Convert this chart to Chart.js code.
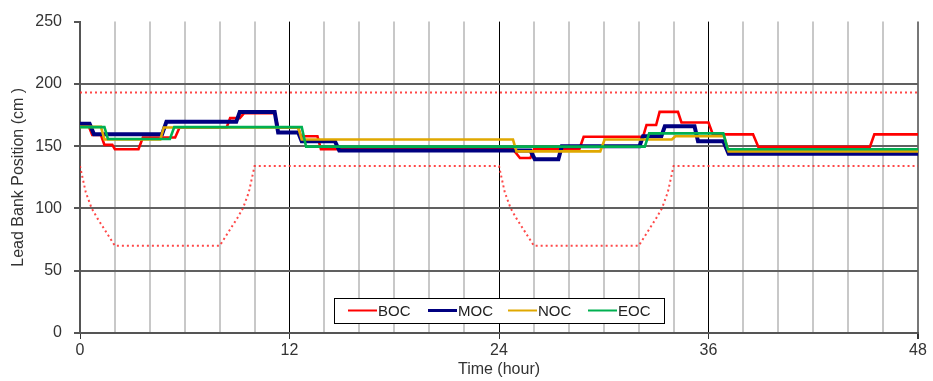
<!DOCTYPE html>
<html>
<head>
<meta charset="utf-8">
<script src="https://cdn.jsdelivr.net/npm/chart.js@4/dist/chart.umd.min.js"></script>
<style>
  html, body { margin: 0; padding: 0; background: #fff; }
  #wrap { width: 933px; height: 381px; }
</style>
</head>
<body>
<div id="wrap"><canvas id="myChart" width="933" height="381"></canvas></div>
<script>
var seriesNames = ['BOC', 'MOC', 'NOC', 'EOC'];
var seriesColors = ['#ff0000', '#000080', '#e0a800', '#00b050'];

// step curves (hour, cm)
var bocHours  = [0, 0.5, 0.7, 1.2, 1.4, 1.85, 2.0, 3.35, 3.6, 5.45, 5.7, 8.4, 8.6, 9.15, 9.4, 11.15, 11.35, 12.5, 12.65, 13.6, 13.8, 24.8, 25.2, 25.8, 26.0, 28.6, 28.85, 32.25, 32.45, 33.0, 33.2, 34.25, 34.45, 36.0, 36.25, 38.55, 38.85, 45.25, 45.5, 48];
var bocValues = [166, 166, 159, 159, 151, 151, 147.5, 147.5, 157, 157, 165, 165, 172.5, 172.5, 176.5, 176.5, 165, 165, 158, 158, 147.5, 147.5, 140.5, 140.5, 147.5, 147.5, 157.5, 157.5, 167, 167, 177.5, 177.5, 169, 169, 159.5, 159.5, 149.5, 149.5, 159.5, 159.5];

var mocHours  = [0, 0.55, 0.8, 4.7, 4.95, 8.95, 9.15, 11.15, 11.35, 12.5, 12.7, 14.6, 14.85, 25.8, 26.05, 27.4, 27.6, 32.05, 32.25, 33.3, 33.5, 35.2, 35.4, 36.85, 37.15, 48];
var mocValues = [168, 168, 159.5, 159.5, 169.5, 169.5, 177.5, 177.5, 161, 161, 154, 154, 146.5, 146.5, 139.5, 139.5, 150, 150, 158, 158, 166, 166, 154, 154, 144, 144];

var nocHours  = [0, 1.2, 1.4, 4.6, 4.8, 12.5, 12.7, 24.8, 25.0, 29.8, 30.05, 33.9, 34.1, 36.9, 37.15, 48];
var nocValues = [165.5, 165.5, 155.3, 155.3, 165, 165, 155.3, 155.3, 145.8, 145.8, 155.3, 155.3, 158, 158, 145.8, 145.8];

var eocHours  = [0, 1.4, 1.6, 5.15, 5.4, 12.7, 12.95, 32.35, 32.6, 36.85, 37.1, 48];
var eocValues = [165.3, 165.3, 155.8, 155.8, 165.3, 165.3, 149.6, 149.6, 160.3, 160.3, 147.5, 147.5];

// dotted limits
var lowHours  = [0, 0.33, 0.67, 1, 2, 8, 9, 9.33, 9.67, 10, 24, 24.33, 24.67, 25, 26, 32, 33, 33.33, 33.67, 34, 48];
var lowValues = [134, 113, 100, 92, 70, 70, 92, 100, 113, 134, 134, 113, 100, 92, 70, 70, 92, 100, 113, 134, 134];
var highHours  = [0, 48];
var highValues = [193, 193];

var xMajorTicks = [0, 12, 24, 36, 48];
var yTicks = [0, 50, 100, 150, 200, 250];

function pts(xs, ys) {
  return xs.map(function(x, i) { return { x: x, y: ys[i] }; });
}

var seriesData = [pts(bocHours, bocValues), pts(mocHours, mocValues), pts(nocHours, nocValues), pts(eocHours, eocValues)];
var seriesWidths = [2.6, 4, 2.6, 2.6];

var datasets = seriesNames.map(function(name, i) {
  return {
    label: name,
    data: seriesData[i],
    borderColor: seriesColors[i],
    borderWidth: seriesWidths[i],
    pointRadius: 0,
    tension: 0,
    fill: false,
    order: 4 - i
  };
});

[pts(lowHours, lowValues), pts(highHours, highValues)].forEach(function(d) {
  datasets.push({
    label: '',
    data: d,
    borderColor: 'rgba(255,40,40,0.85)',
    borderWidth: 2,
    borderDash: [2, 3],
    pointRadius: 0,
    tension: 0,
    fill: false,
    order: 10
  });
});

var boxLegend = {
  id: 'boxLegend',
  afterDraw: function(chart) {
    var c = chart.ctx, a = chart.chartArea;
    var w = 330, h = 25;
    var left = (a.left + a.right) / 2 - w / 2;
    var top = a.bottom - 35;
    c.save();
    c.fillStyle = '#fff';
    c.fillRect(left, top, w, h);
    c.strokeStyle = '#000';
    c.lineWidth = 1;
    c.strokeRect(Math.round(left) + 0.5, Math.round(top) + 0.5, w, h);
    c.font = '15px "Liberation Sans", Arial, sans-serif';
    c.textBaseline = 'middle';
    c.fillStyle = '#222';
    seriesNames.forEach(function(name, i) {
      var x = left + 14 + i * 80;
      var y = top + h / 2;
      c.strokeStyle = seriesColors[i];
      c.lineWidth = i === 1 ? 3 : 2;
      c.beginPath();
      c.moveTo(x, y);
      c.lineTo(x + 29, y);
      c.stroke();
      c.fillText(name, x + 30, y + 1);
    });
    c.restore();
  }
};

var font = { family: '"Liberation Sans", Arial, sans-serif', size: 16 };

new Chart(document.getElementById('myChart').getContext('2d'), {
  type: 'line',
  data: { datasets: datasets },
  options: {
    responsive: false,
    animation: false,
    layout: { padding: { left: 0, right: 15, top: 17, bottom: 0 } },
    plugins: { legend: { display: false }, tooltip: { enabled: false } },
    scales: {
      x: {
        type: 'linear',
        min: 0,
        max: 48,
        afterFit: function(s) { s.height = 48; },
        afterBuildTicks: function(s) {
          var t = [];
          for (var v = 0; v <= 48; v += 2) t.push({ value: v });
          s.ticks = t;
        },
        ticks: {
          autoSkip: false,
          maxRotation: 0,
          padding: 2,
          color: '#333',
          font: font,
          callback: function(v) { return xMajorTicks.indexOf(v) >= 0 ? String(v) : ''; }
        },
        grid: {
          color: function(ctx) {
            var v = ctx.tick ? ctx.tick.value : 0;
            if (v === 48) return '#777';
            return v % 12 === 0 ? '#000' : '#c8c8c8';
          },
          lineWidth: function(ctx) {
            var v = ctx.tick ? ctx.tick.value : 0;
            return (v % 12 === 0 && v !== 48) ? 1 : 2;
          },
          tickColor: function(ctx) {
            var v = ctx.tick ? ctx.tick.value : 0;
            return v % 12 === 0 ? '#333' : 'rgba(0,0,0,0)';
          },
          tickLength: 6
        },
        border: { color: '#555', width: 2 },
        title: { display: true, text: 'Time (hour)', color: '#333', font: font, padding: { top: 0, bottom: 2 } }
      },
      y: {
        min: 0,
        max: 250,
        afterFit: function(s) { s.width = 80; },
        afterBuildTicks: function(s) {
          s.ticks = yTicks.map(function(v) { return { value: v }; });
        },
        ticks: { padding: 12, color: '#333', font: font },
        grid: {
          color: function(ctx) {
            var v = ctx.tick ? ctx.tick.value : 0;
            return v === 250 ? 'rgba(0,0,0,0)' : '#606060';
          },
          lineWidth: 2,
          tickColor: '#555',
          tickLength: 6
        },
        border: { color: '#555', width: 2 },
        title: { display: true, text: 'Lead Bank Position (cm )', color: '#333', font: font, padding: { top: 9, bottom: 0 } }
      }
    }
  },
  plugins: [boxLegend]
});
</script>
</body>
</html>
